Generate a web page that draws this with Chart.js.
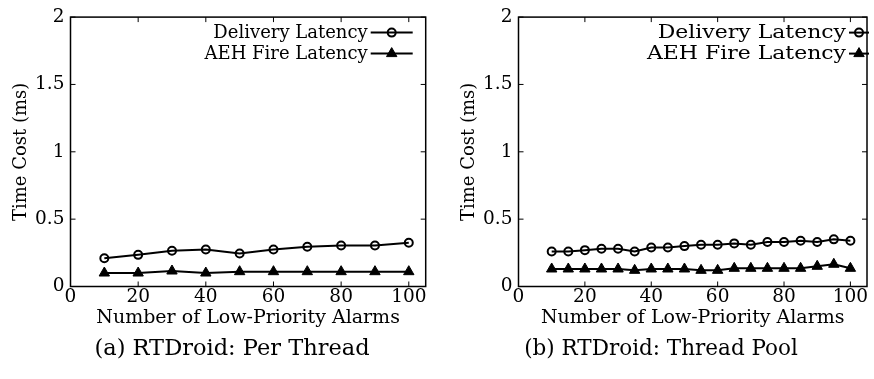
<!DOCTYPE html>
<html>
<head>
<meta charset="utf-8">
<script src="https://cdn.jsdelivr.net/npm/chart.js@4"></script>
<style>
  html, body { margin: 0; padding: 0; background: #fff; }
  #wrap { position: relative; width: 874px; height: 379px; }
  #wrap canvas { position: absolute; top: 0; }
</style>
</head>
<body>
<div id="wrap">
  <canvas id="perThread" width="464" height="379" style="left:0px"></canvas>
  <canvas id="threadPool" width="426" height="379" style="left:448px"></canvas>
</div>
<script>
// Number of low-priority alarms
const alarmsPerThread = [10, 20, 30, 40, 50, 60, 70, 80, 90, 100];
const alarmsThreadPool = [10, 15, 20, 25, 30, 35, 40, 45, 50, 55, 60, 65, 70, 75, 80, 85, 90, 95, 100];

// Time cost (ms), per-thread handling
const deliveryPerThread = [0.21, 0.235, 0.265, 0.275, 0.245, 0.275, 0.295, 0.305, 0.305, 0.325];
const aehPerThread = [0.1, 0.1, 0.115, 0.1, 0.11, 0.11, 0.11, 0.11, 0.11, 0.11];

// Time cost (ms), thread pool handling
const deliveryThreadPool = [0.26, 0.26, 0.27, 0.28, 0.28, 0.26, 0.29, 0.29, 0.3, 0.31,
  0.31, 0.32, 0.31, 0.33, 0.33, 0.34, 0.33, 0.35, 0.34];
const aehThreadPool = [0.13, 0.13, 0.13, 0.13, 0.13, 0.12, 0.13, 0.13, 0.13, 0.12,
  0.12, 0.135, 0.135, 0.135, 0.135, 0.135, 0.15, 0.165, 0.135];

const xTicks = [0, 20, 40, 60, 80, 100];
const yTicks = [0, 0.5, 1, 1.5, 2];
const yTickLabels = ["0", "0.5", "1", "1.5", "2"];
const seriesNames = ["Delivery Latency", "AEH Fire Latency"];

const FONT = "'DejaVu Serif', serif";

// gnuplot-like frame with inward ticks on all four sides
const framePlugin = {
  id: "frame",
  afterDraw(chart) {
    const { ctx, chartArea: a, scales } = chart;
    ctx.save();
    ctx.strokeStyle = "#000";
    ctx.lineWidth = 1.5;
    ctx.strokeRect(a.left, a.top, a.right - a.left, a.bottom - a.top);
    ctx.lineWidth = 1;
    ctx.beginPath();
    scales.x.ticks.forEach(t => {
      const px = scales.x.getPixelForValue(t.value);
      ctx.moveTo(px, a.bottom); ctx.lineTo(px, a.bottom - 5);
      ctx.moveTo(px, a.top); ctx.lineTo(px, a.top + 5);
    });
    scales.y.ticks.forEach(t => {
      const py = scales.y.getPixelForValue(t.value);
      ctx.moveTo(a.left, py); ctx.lineTo(a.left + 5, py);
      ctx.moveTo(a.right, py); ctx.lineTo(a.right - 5, py);
    });
    ctx.stroke();
    ctx.restore();
  }
};

// key in the top right corner: label first, then a line sample with its marker
const keyPlugin = {
  id: "key",
  afterDraw(chart, args, opts) {
    const { ctx, chartArea: a } = chart;
    ctx.save();
    ctx.font = "18px " + FONT;
    ctx.textAlign = "right";
    ctx.textBaseline = "middle";
    chart.data.datasets.forEach((ds, i) => {
      const y = a.top + opts.firstRow + i * opts.rowGap;
      const x0 = a.right + opts.sampleStart;
      const x1 = a.right + opts.sampleEnd;
      const tx = a.right + opts.textEnd;
      // labels are a little wider on the pool panel
      ctx.save();
      ctx.translate(tx, y + 1);
      ctx.scale(opts.stretch, 1);
      ctx.fillStyle = "#000";
      ctx.fillText(ds.label, 0, 0);
      ctx.restore();
      ctx.strokeStyle = ds.borderColor;
      ctx.lineWidth = ds.borderWidth;
      ctx.beginPath();
      ctx.moveTo(x0, y);
      ctx.lineTo(x1, y);
      ctx.stroke();
      ctx.fillStyle = ds.pointBackgroundColor;
      ctx.strokeStyle = ds.pointBorderColor;
      ctx.lineWidth = ds.pointBorderWidth;
      Chart.helpers.drawPoint(ctx, {
        pointStyle: ds.pointStyle,
        radius: ds.pointRadius,
        borderWidth: ds.pointBorderWidth,
        rotation: 0
      }, (x0 + x1) / 2, y);
    });
    ctx.restore();
  }
};

// sub-figure caption, centred on the whole canvas
const captionPlugin = {
  id: "caption",
  afterDraw(chart, args, opts) {
    const { ctx } = chart;
    ctx.save();
    ctx.font = opts.size + "px " + FONT;
    ctx.fillStyle = "#000";
    ctx.textAlign = "center";
    ctx.textBaseline = "middle";
    ctx.fillText(opts.text, chart.width / 2, opts.y);
    ctx.restore();
  }
};

function points(xs, ys) {
  return xs.map((x, i) => ({ x: x, y: ys[i] }));
}

function makeChart(id, xs, delivery, aeh, caption, rightPad, key) {
  const ctx = document.getElementById(id).getContext("2d");
  return new Chart(ctx, {
    type: "line",
    data: {
      datasets: [
        {
          label: seriesNames[0],
          data: points(xs, delivery),
          borderColor: "#000",
          borderWidth: 2,
          pointStyle: "circle",
          pointRadius: 4,
          pointBorderWidth: 2,
          pointBorderColor: "#000",
          pointBackgroundColor: "rgba(0,0,0,0)",
          tension: 0
        },
        {
          label: seriesNames[1],
          data: points(xs, aeh),
          borderColor: "#000",
          borderWidth: 2,
          pointStyle: "triangle",
          pointRadius: 6,
          pointBorderWidth: 1,
          pointBorderColor: "#000",
          pointBackgroundColor: "#000",
          tension: 0
        }
      ]
    },
    options: {
      responsive: false,
      animation: false,
      events: [],
      layout: { padding: { left: 0, right: rightPad, top: 16, bottom: 43.5 } },
      plugins: {
        legend: { display: false },
        tooltip: { enabled: false },
        title: { display: false },
        caption: caption,
        key: key
      },
      scales: {
        x: {
          type: "linear",
          min: 0,
          max: 105,
          afterBuildTicks: s => { s.ticks = xTicks.map(v => ({ value: v })); },
          afterFit: s => { s.height = 49; },
          grid: { display: false, drawTicks: false },
          border: { display: false },
          ticks: { color: "#000", padding: 0, maxRotation: 0, font: { family: FONT, size: 18.5 } },
          title: {
            display: true,
            text: "Number of Low-Priority Alarms",
            color: "#000",
            font: { family: FONT, size: 19 },
            padding: { top: 0, bottom: 6 }
          }
        },
        y: {
          min: 0,
          max: 2,
          afterBuildTicks: s => { s.ticks = yTicks.map(v => ({ value: v })); },
          afterFit: s => { s.width = 70.5; },
          grid: { display: false, drawTicks: false },
          border: { display: false },
          ticks: {
            color: "#000",
            padding: 6,
            font: { family: FONT, size: 18.5 },
            callback: (v, i) => yTickLabels[i]
          },
          title: {
            display: true,
            text: "Time Cost (ms)",
            color: "#000",
            font: { family: FONT, size: 18 },
            padding: { top: 11, bottom: 0 }
          }
        }
      }
    },
    plugins: [framePlugin, keyPlugin, captionPlugin]
  });
}

makeChart("perThread", alarmsPerThread, deliveryPerThread, aehPerThread,
  { text: "(a) RTDroid: Per Thread", size: 22.5, y: 349 }, 38.3,
  { firstRow: 15.5, rowGap: 21, textEnd: -58, sampleStart: -55, sampleEnd: -13, stretch: 1 });

makeChart("threadPool", alarmsThreadPool, deliveryThreadPool, aehThreadPool,
  { text: "(b) RTDroid: Thread Pool", size: 21.5, y: 349 }, 2.3,
  { firstRow: 15.5, rowGap: 21, textEnd: -21, sampleStart: -18, sampleEnd: 2, stretch: 1.22 });
</script>
</body>
</html>
